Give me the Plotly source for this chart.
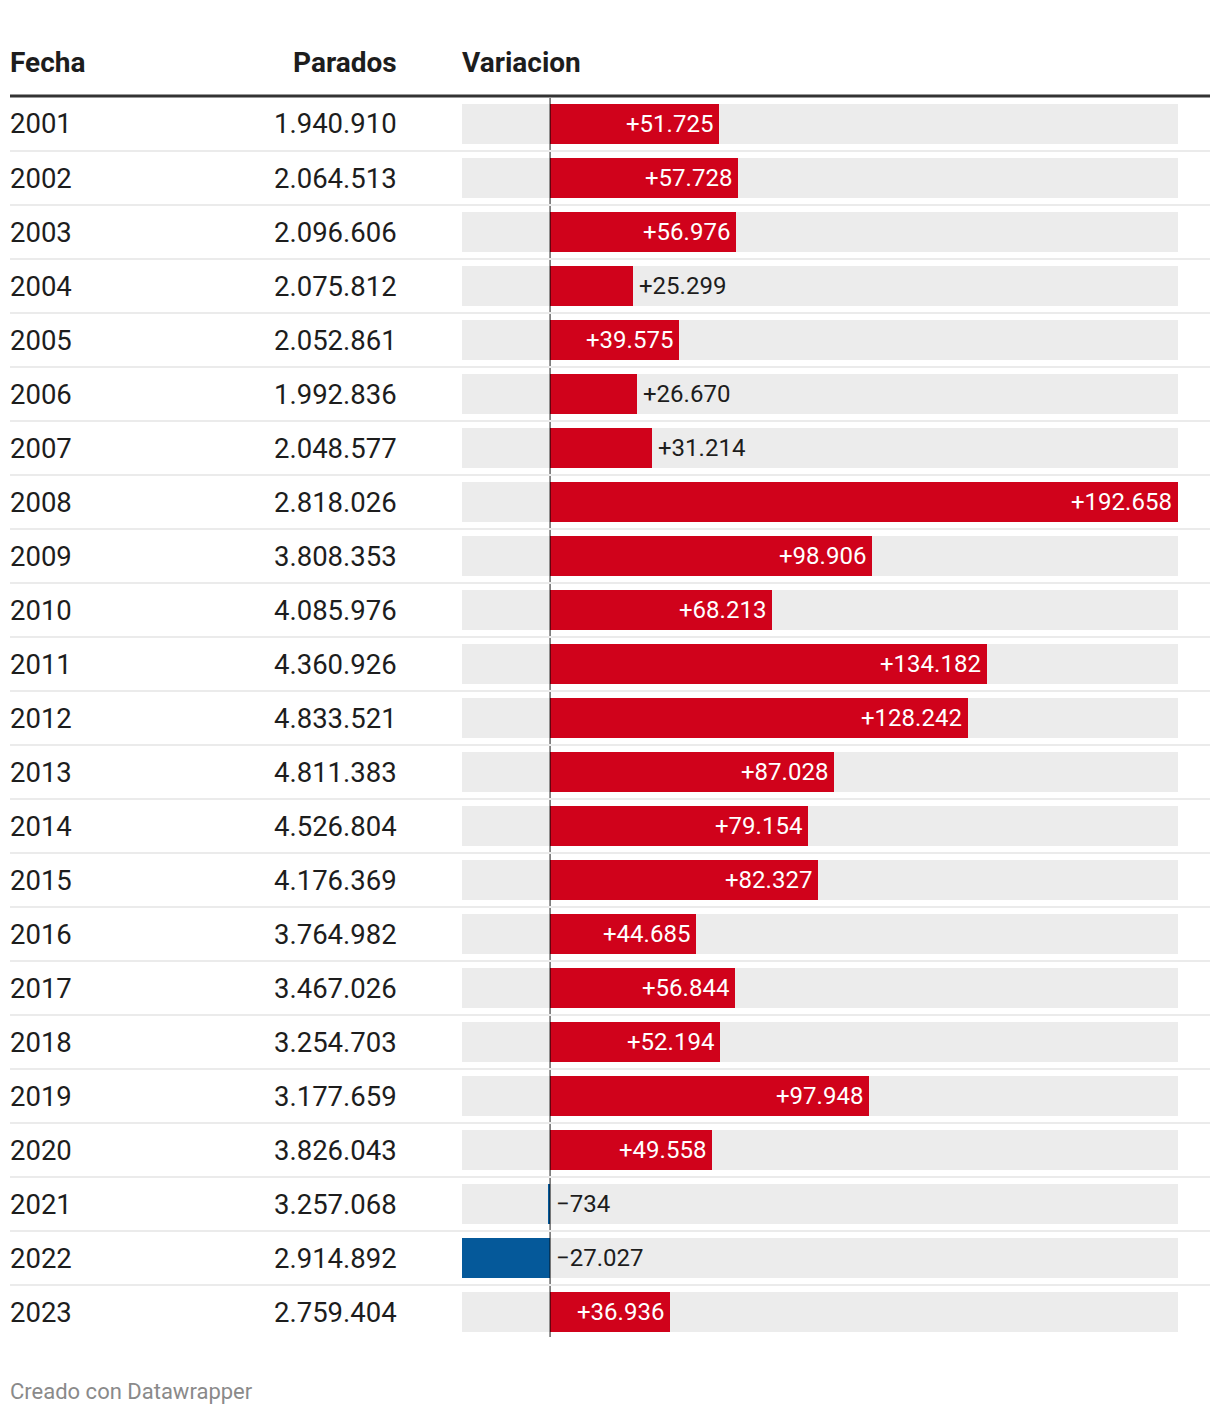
import plotly.graph_objects as go

# ---- data ----
fechas = ["2001", "2002", "2003", "2004", "2005", "2006", "2007", "2008", "2009", "2010",
          "2011", "2012", "2013", "2014", "2015", "2016", "2017", "2018", "2019", "2020",
          "2021", "2022", "2023"]
parados = [1940910, 2064513, 2096606, 2075812, 2052861, 1992836, 2048577, 2818026, 3808353,
           4085976, 4360926, 4833521, 4811383, 4526804, 4176369, 3764982, 3467026, 3254703,
           3177659, 3826043, 3257068, 2914892, 2759404]
variacion = [51725, 57728, 56976, 25299, 39575, 26670, 31214, 192658, 98906, 68213,
             134182, 128242, 87028, 79154, 82327, 44685, 56844, 52194, 97948, 49558,
             -734, -27027, 36936]
headers = ["Fecha", "Parados", "Variacion"]
footer = "Creado con Datawrapper"

# ---- layout constants (page pixel coordinates) ----
PAGE_W, PAGE_H = 1220, 1414
OFF = 8  # default body margin of the html page
W, H = PAGE_W - 2 * OFF, PAGE_H - 2 * OFF
TOP, ROW = 97, 54
N = len(fechas)
BOTTOM = TOP + ROW * N
BAR_L, BAR_R = 462, 1178
FONT = "Roboto"
TXT = "#1d1d1d"
RED = "#d0021b"
BLUE = "#05599a"

def px(x):
    return (x - OFF) / W

def py(y):
    return 1 - (y - OFF) / H

def fmt_int(v):
    return f"{v:,}".replace(",", ".")

def fmt_var(v):
    s = f"{abs(v):,}".replace(",", ".")
    return ("+" if v >= 0 else "\u2212") + s

vmin, vmax = min(variacion), max(variacion)
scale = (BAR_R - BAR_L) / (vmax - vmin)
idx = list(range(N))

fig = go.Figure()
# background bars
fig.add_trace(go.Bar(
    y=idx, x=[vmax - vmin] * N, base=[vmin] * N, orientation="h",
    marker=dict(color="#ececec", line=dict(width=0)), width=40 / ROW,
    hoverinfo="skip", showlegend=False))
# value bars
fig.add_trace(go.Bar(
    y=idx, x=variacion, orientation="h",
    marker=dict(color=[RED if v >= 0 else BLUE for v in variacion], line=dict(width=0)),
    width=40 / ROW, hoverinfo="skip", showlegend=False))

annotations = []
# headers
hdr_y = py(62)
annotations.append(dict(text="<b>%s</b>" % headers[0], x=px(8.5), xanchor="left"))
annotations.append(dict(text="<b>%s</b>" % headers[1], x=px(398), xanchor="right"))
annotations.append(dict(text="<b>%s</b>" % headers[2], x=px(461), xanchor="left"))
for a in annotations:
    a.update(xref="paper", yref="paper", y=hdr_y, yanchor="middle", showarrow=False,
             font=dict(family=FONT, size=28, color=TXT), borderpad=0)

for i in idx:
    annotations.append(dict(text=fechas[i], x=px(8.5), xref="paper", xanchor="left",
                            y=i, yref="y", yanchor="middle", showarrow=False, borderpad=0,
                            font=dict(family=FONT, size=27.5, color=TXT)))
    annotations.append(dict(text=fmt_int(parados[i]), x=px(398), xref="paper", xanchor="right",
                            y=i, yref="y", yanchor="middle", showarrow=False, borderpad=0,
                            font=dict(family=FONT, size=27.5, color=TXT)))
    v = variacion[i]
    label = fmt_var(v)
    label_w = len(label) * 24 * 0.55
    bar_px = v * scale
    if v > 0 and bar_px > label_w + 14:
        annotations.append(dict(text=label, x=v, xref="x", xanchor="right", xshift=-5,
                                y=i, yref="y", yanchor="middle", showarrow=False, borderpad=0,
                                font=dict(family=FONT, size=24, color="white")))
    else:
        annotations.append(dict(text=label, x=max(v, 0), xref="x", xanchor="left", xshift=5,
                                y=i, yref="y", yanchor="middle", showarrow=False, borderpad=0,
                                font=dict(family=FONT, size=24, color=TXT)))

annotations.append(dict(text=footer, x=px(9), xref="paper", xanchor="left",
                        y=py(1391), yref="paper", yanchor="middle", showarrow=False, borderpad=0,
                        font=dict(family=FONT, size=22, color="#8a8a8a")))

shapes = []
# zero line
shapes.append(dict(type="line", xref="x", yref="paper", x0=0, x1=0,
                   y0=py(TOP + 1), y1=py(BOTTOM - 2),
                   line=dict(color="rgba(0,0,0,0.6)", width=1.5)))
# row separators
for k in range(1, N):
    yy = TOP + ROW * k
    shapes.append(dict(type="line", xref="paper", yref="paper", x0=px(10), x1=px(1210),
                       y0=py(yy), y1=py(yy), line=dict(color="#ebebeb", width=2)))
# header line
shapes.append(dict(type="line", xref="paper", yref="paper", x0=px(10), x1=px(1210),
                   y0=py(96), y1=py(96), line=dict(color="#333333", width=3)))

fig.update_layout(
    width=W, height=H, margin=dict(l=0, r=0, t=0, b=0),
    paper_bgcolor="white", plot_bgcolor="white",
    barmode="overlay", bargap=0,
    xaxis=dict(domain=[px(BAR_L), px(BAR_R)], range=[vmin, vmax], visible=False,
               showgrid=False, zeroline=False, fixedrange=True),
    yaxis=dict(domain=[py(BOTTOM), py(TOP)], range=[N - 0.5, -0.5], visible=False,
               showgrid=False, zeroline=False, fixedrange=True),
    annotations=annotations, shapes=shapes, showlegend=False,
)

fig.write_html("out.html")
